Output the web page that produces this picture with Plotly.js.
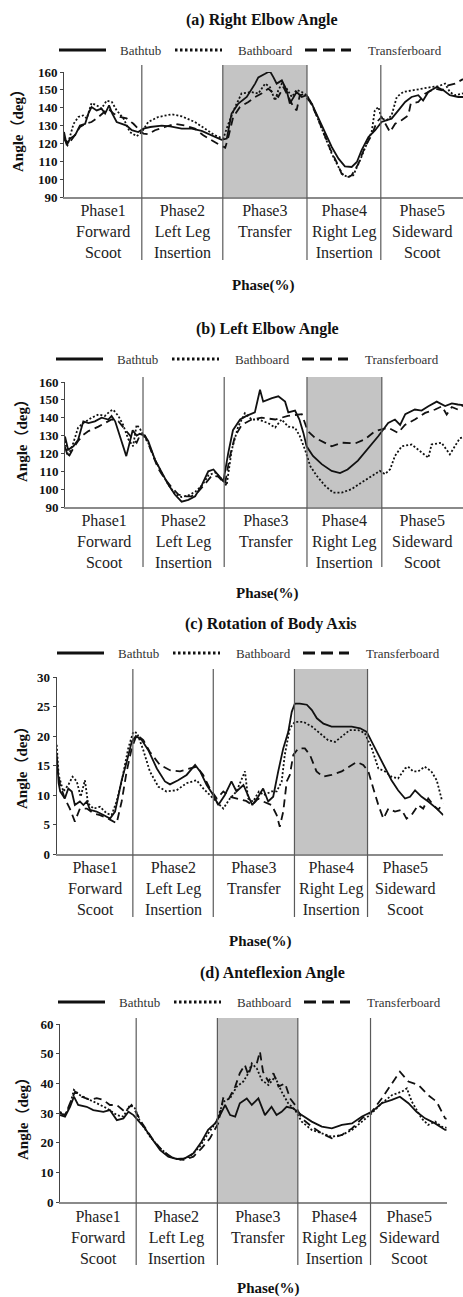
<!DOCTYPE html>
<html>
<head>
<meta charset="utf-8">
<script src="https://cdn.plot.ly/plotly-3.0.1.min.js"></script>
<style>html,body{margin:0;padding:0;background:#fff;}#chart{width:463px;height:1297px;}</style>
</head>
<body>
<div id="chart"></div>
<script>
// ---------- DATA ----------
const seriesNames = ["Bathtub", "Bathboard", "Transferboard"];
const phaseLabels = ["Phase1<br>Forward<br>Scoot", "Phase2<br>Left Leg<br>Insertion", "Phase3<br>Transfer", "Phase4<br>Right Leg<br>Insertion", "Phase5<br>Sideward<br>Scoot"];
const panelTitles = ["(a) Right Elbow Angle", "(b) Left Elbow Angle", "(c) Rotation of Body Axis", "(d) Anteflexion Angle"];
const xTitle = "Phase(%)";
const yTitle = "Angle（deg）";

// phase boundaries (% of task) for each panel
const aBounds = [0, 19.5, 39.8, 60.9, 79.4, 100];
const bBounds = [0, 19.6, 40.0, 60.8, 79.6, 100];
const cBounds = [0, 19.7, 40.5, 61.5, 80.4, 100];
const dBounds = [0, 19.7, 40.7, 61.5, 80.3, 100];

// (a) Right elbow angle
const aTubX = [0,0.7,1.5,2.8,4,5.3,6.1,6.9,8.2,9.4,10.3,11.3,12.1,13.2,14.5,15.7,17,18.6,19.9,21.6,24.5,26.6,29.5,32,34.5,37,39.5,40.8,42,43.7,45.8,47.9,48.7,50.4,51.6,52.5,53.3,54.6,55.8,56.6,57.5,58.3,59.6,60.8,62.1,63.7,65.4,67.1,68.8,70.4,72.1,73.4,74.6,76.3,78,79.6,80.9,82.1,83.8,85.5,87.1,88.8,90,91.3,93.4,95.1,96.7,98.8,100];
const aTubY = [126.4,119,122.7,124.6,130,131,136.7,140.4,138.5,139.5,136.7,141.3,136.7,132,131,130,127.4,126.4,128.3,129.2,130,129.6,128.3,128.3,127,124.6,122,122.7,136.7,142.3,146,153.5,157,159,160.5,157,153.5,155.3,149.7,142.3,146,148.8,146,147,142.3,134.8,126.4,118,111.5,107.2,106.8,109.6,116.2,123.6,127.4,132,133,133.9,138.5,143.2,146,147,144,148.8,151.6,149.7,147,146,146];
const aDotX = [0,1,2.4,3.6,4.8,5.7,6.9,8.2,9.4,10.7,12,13.2,14.9,16.5,18.2,19.5,21.1,23.6,27,29.5,32.8,35.3,37.8,39.9,41.2,42.9,44.5,47,48.7,50.4,51.6,52.9,53.7,54.6,55.8,57.1,58.3,59.6,60.8,62.1,63.7,65.4,67.1,68.8,70,71.3,72.5,74.2,75.9,77.1,77.9,78.8,79.6,80.9,82.1,83.4,85,87.1,89.6,92.1,93.8,95.5,96.7,98,100];
const aDotY = [123.6,120,131,134.8,135.7,134,142.6,141.3,139.5,144,143.2,138.5,134,126.4,124,126.4,132,134.8,136.3,135.2,132,128.3,124.6,122.7,131,140.4,148,148.8,147.9,153.5,151.6,144,149.7,153.5,150.7,146,150,148.8,147,142.3,133,123.6,114.3,106.8,102.2,101.2,102.2,110.6,119.9,126.4,138.5,140.4,133.9,133,135.7,146,148.8,149.7,150.7,151.6,152,153.5,148.8,147,148];
const aDashX = [0,0.9,2.4,4,5.3,6.9,8.2,9.9,11.1,12.4,14,15.7,17.4,18.6,19.9,21.1,22.8,25.3,27.8,30.3,32.8,34.9,37,39.1,40.4,41.2,42.4,44.1,46.2,47.9,49.5,51.2,52.5,53.7,55,56.2,57.5,58.3,59.1,60,61.7,63.3,65,66.7,68.3,69.6,70.9,72.1,73.8,75.4,77.1,78.4,79.6,80.9,81.7,83,84.6,86.3,86.9,88.8,90.5,93,94.7,96.3,98,100];
const aDashY = [122.7,119,123.6,129.2,131,132,134,137,139.5,136.7,134.8,134,131,128.3,125.5,125.1,127.4,129.2,131,130,128.3,124.6,121.7,119,117.6,123.6,134.8,140.4,143.2,146,147.9,150.7,148,146,151.6,146,140.4,138.5,147,147.5,143.2,135.7,126.4,117,109.6,103,100.9,102.2,108.7,118,124.6,132,134.8,129.2,126.4,131,133,135.7,142.3,143.2,147.9,150.7,149.7,152.5,153.5,156];

// (b) Left elbow angle
const bTubX = [0,0.8,2.1,3.3,4.6,5.9,7.5,9.2,10.9,11.7,12.6,13.8,15.4,16.3,17,18,18.8,20,20.9,22.6,24.3,26,27.6,29.3,31,32.7,34.4,36,37.3,38.5,39.8,41,42.2,44,45.6,47.7,49,49.8,52,53.6,55.3,56.1,57.8,58.9,59.9,60.7,62.3,64.5,67,69.1,71,73.6,76.2,78.7,81.2,82.9,84.2,85.5,87.9,89.6,91.3,93.4,95.5,97.2,98.7,100];
const bTubY = [129.5,122,124,127.6,138,137,138,140,139,141,138,130,118.5,126.5,133,130,131,130,127,116.5,109,102.4,97,93,94,96,102.4,110,111,108,104.5,120,133,139,141,143,155.7,149,151,152,149,143,144,139,131.5,124,118.6,114,110.2,109,111,116,123,129.6,137,139,136,142,144.6,144,146.4,149,146.5,148,147.4,147];
const bDotX = [0,0.8,2.1,3.3,4.6,6.7,8.4,10,11.3,12.1,13.4,14.6,15.9,17.1,18,18.8,19.7,20.9,22.6,24.3,26,27.6,29.3,31,32.7,34.4,36,37.7,39.4,40.6,41.9,43.5,45.2,46.9,48.6,51,52.8,54.4,56.1,57.8,59,60.3,61.6,63.2,65.3,67.4,69.5,72,74.5,77,79.1,80.4,81.7,82.9,84.6,87.1,88.8,90,91.3,92.1,94.6,96.7,98,99.2,100];
const bDotY = [127,118.5,126,134.5,137,140,141.8,141,143.6,144.5,141,136,128,124,136,134,130,126,116.6,109,102.4,97.4,95.6,96.5,98.5,102,107.6,109.4,105.6,102,122,135,142.5,139,139,137,134.5,139,135,134.4,129.7,122.2,113,107.6,102,98,98,100,103.7,107.5,110.2,108.4,111.2,118.6,124,125,122,120.4,117.6,125,126,119.5,124,128.5,129];
const bDashX = [0,0.8,2.1,3.3,4.6,5.9,8.4,10,11.7,13.4,15,16.7,18,18.8,20.1,21.8,23.4,25,26.8,28.5,30.2,31.8,33.5,35.2,36.9,38.5,40.2,41.4,42.7,44.4,46.9,49.4,52.8,56,59.5,61,62.8,67,69.5,72.9,75.4,77.9,79.6,81.2,83.7,85.4,87.9,90.5,93,94.7,95.9,97.2,98.7,100];
const bDashY = [123.7,117.6,123,127,130.4,132.5,135,137,139,138,133.4,129,126,130,130,120,111.6,106,101,97,96,96,98.6,103,107.6,107,103,118,129.5,136,139,140,139,141,142,132.5,128.8,124,126,125.6,128,132.5,133.4,134.4,131.5,136,139,142.7,144.6,146.4,141.8,146,144.6,147];

// (c) Rotation of body axis
const cTubX = [0,0.5,0.9,2.1,3,3.9,4.7,6,6.9,7.8,8.6,10.3,12.1,13.8,15.1,15.9,16.8,18.1,19.4,20.5,22,23.7,25.9,28,29.3,31.4,33.6,35.8,37.1,38.8,40.5,41.8,43.5,45.2,46.5,48.3,50,50.6,52.1,53.4,54.7,56,57.3,58.6,59.9,60.8,61.6,62.9,64.7,66,67.3,69,71.1,73.7,76.3,78.5,80.2,81.5,83.2,84.9,86.6,88.3,90.1,91.4,92.7,94.4,96.1,98.3,100];
const cTubY = [17,12,10.6,9.4,11.1,10.6,8.3,8.9,8.3,8.9,7.5,7.2,6.6,6,7.2,9.7,12.5,15.6,19,20,19.3,17.6,14.5,12.3,11.8,12.5,13.4,15.1,14,11.7,10,8.3,10,12.3,10.6,11.7,9.4,8.3,9.7,11.1,8.9,9.7,14,17.9,20.7,24.1,25.5,25.5,25.3,24.4,23,22.1,21.6,21.6,21.6,21.3,20.7,19,16.8,14.5,12.5,10.8,9.4,9.7,10.8,9.7,8.9,7.7,6.6];
const cDotX = [0,0.5,1.7,3,4.1,5.2,6.2,7.3,8.1,9.5,11.2,12.9,14.2,15.5,16.8,18.5,19.8,20.8,22.4,24.1,26.3,28.4,31,33.6,36.2,37.9,39.6,41.4,43.1,44.8,46.5,48.7,49.5,50.8,52.3,53.6,55.6,56.9,58.2,59,60.3,61.6,63.8,66,68.1,70.2,72,73.7,75.8,78,79.7,81.5,83.2,84.9,86.6,88.3,90.1,90.9,92.2,93.5,95.2,96.9,98.3,99.6,100];
const cDotY = [18.5,13.4,10.6,11.7,13.1,12.3,9.7,12.5,8.6,7.7,8,6.9,6.6,8.9,12.3,17.9,20.7,20.5,17.6,14,11.4,10.6,10.8,12,12.5,11.1,10,8.9,7.7,9.4,10.6,14,9.4,8.9,10.6,10,10.6,10.6,12.3,16.8,21.3,22.4,22.4,21.6,20.5,19.3,19,19.9,21,21,20.5,17.9,14.5,14,13.1,12.8,14.5,14.8,14,14,14.8,14,12.5,9.2,9.2];
const cDashX = [0,0.9,2.1,3.4,4.7,6,7.8,9.5,11.2,13.3,15.5,16.8,18.1,19.4,20.7,22.4,24.1,26.7,29.3,31.9,34.5,36.2,37.9,39.6,41.4,43.1,44.8,46.5,49,50.6,52.1,53.4,55.6,56.9,57.7,58.6,59.5,60.3,61.2,62.5,64.2,65.5,67.2,68.9,71.1,73.7,75.8,77.6,79.3,80.6,81.9,83.2,84.5,85.8,87.5,89.2,90.5,91.8,93.5,94.8,96.1,97.4,98.7,100];
const cDashY = [15,11.7,9.4,7.7,5.5,7.7,7.7,6.9,6.6,6,5.2,8.9,14,17.9,20.2,19.3,17.3,15.1,14.2,14,14.5,14.8,13.4,11.1,9.4,10.6,9.7,9.4,9,8.3,9.4,8.9,8.3,6.6,4.6,7.2,12.3,13.4,16.8,17.9,17.9,16.8,14,13.1,13.4,14,14.8,15.6,15.1,14,11.1,8.3,6,7.7,7.2,7.5,6,6.6,8.3,7.7,9.4,8.3,7.5,8.6];

// (d) Anteflexion angle
const dTubX = [0,1.3,2.6,3.6,4.7,6.9,8.6,11.2,12.9,14.7,16.4,17.7,19,20.2,22,23.7,25.9,28,30.2,32.3,34.5,36.6,38.3,40.1,41.4,42.7,44,45.3,46.5,48.3,49.6,51.3,53,54.7,56,57.3,58.6,60.3,62.5,65.1,67.7,70.3,72.9,75.5,78.1,80.6,83.2,85.8,87.9,90.1,92.2,94.4,97,99.6,100];
const dTubY = [29.3,28.8,32.1,35.5,32.7,32.1,31,30.4,31,27.6,28.2,30.4,29.3,27.6,24.8,21.5,17.5,15.3,14.5,14.7,16.4,20.3,24.3,26.5,29.3,32.7,29.3,28.8,33.3,34.9,32.7,34.9,29.3,32.1,29.3,30.4,32.1,31.6,29.3,27.1,25.4,24.8,26,26.5,28.8,30.4,33.3,34.4,35.5,33.3,30.4,28.2,26.5,24.3,24.3];
const dDotX = [0,1.3,2.6,3.6,5.2,6.9,9.5,12.1,14.7,16.4,18.1,19.4,20.7,23.3,25.9,28.4,31,33.6,36.2,38.3,40.5,42.2,44,45.7,47.4,48.7,49.6,50.9,52.2,53.9,55.6,57.3,59,60.8,62.5,65.1,67.7,70.3,72.9,75.5,78.1,80.6,83.2,85.8,88.4,89.7,91,93.5,95.2,97,98.7,100];
const dDotY = [30.4,29.3,32.7,37.8,36,35,33.3,31.6,29.3,28.8,32.7,31.6,27.1,22,18.1,15.3,14.2,15.3,18.7,23.1,27.1,33.8,35,38.9,40.6,43.4,46.7,45,41.1,39.4,42.2,37.2,33.3,31,27.1,24.3,23.1,22,22.6,24.3,27.1,29.9,33.3,36,37.2,38.3,33.8,28.2,26,27.1,25.4,25];
const dDashX = [0,1.3,2.6,3.9,5.6,7.8,9.5,11.2,12.9,14.7,16.8,18.5,19.8,21.5,24.1,26.7,29.3,31.9,34.5,36.6,38.8,40.9,42.2,43.5,45.3,46.5,47.8,48.7,49.6,50.9,51.7,52.5,53.9,55.2,56.5,58.2,59.5,60.8,62.5,65.1,67.7,70.3,72.9,75.5,78.1,80.6,83.2,85.8,87.9,90.1,92.7,95.2,97.4,99.6,100];
const dDashY = [29.9,29.3,33.3,37.2,35.5,34.4,35,34.4,32.7,32.7,30.4,32.7,29.9,26,20.9,17,14.7,14.2,15.3,18.1,21.5,26.5,35,34.4,38.9,43.4,46.2,42.8,46.2,46.7,50.7,43.9,40.6,43.4,38.9,40,34.9,32.7,28.2,25.4,23.1,21.5,22.6,24.8,28.2,30.4,34.9,40,43.9,40.6,39.4,36,33.8,28.2,28];

// ---------- LAYOUT SPEC (pixel positions) ----------
const W = 463, H = 1297;
const FONT = '"Liberation Serif", "Times New Roman", Times, "Noto Sans CJK SC", serif';
const px = v => v / W;
const py = v => 1 - v / H;

const panels = [
  {series: [[aTubX, aTubY], [aDotX, aDotY], [aDashX, aDashY]], bounds: aBounds, shaded: 2,
   x0: 64, x1: 463, top: 72, bot: 197, lineTop: 65, lineBot: 260, range: [90, 160], dtick: 10,
   titleX: 262, titleY: 20, legY: 50, legDx: 0, labTop: 200.5, xtX: 263, xtY: 285, ytX: 18, ytY: 127},
  {series: [[bTubX, bTubY], [bDotX, bDotY], [bDashX, bDashY]], bounds: bBounds, shaded: 3,
   x0: 65, x1: 463, top: 382, bot: 507, lineTop: 377, lineBot: 567, range: [90, 160], dtick: 10,
   titleX: 267, titleY: 329, legY: 359, legDx: -3, labTop: 509.5, xtX: 267, xtY: 593, ytX: 22, ytY: 437},
  {series: [[cTubX, cTubY], [cDotX, cDotY], [cDashX, cDashY]], bounds: cBounds, shaded: 3,
   x0: 56.7, x1: 443.3, top: 677, bot: 854, lineTop: 669, lineBot: 917, range: [0, 30], dtick: 5,
   titleX: 271, titleY: 624, legY: 653, legDx: -2, labTop: 856.5, xtX: 260, xtY: 941, ytX: 22, ytY: 764},
  {series: [[dTubX, dTubY], [dDotX, dDotY], [dDashX, dDashY]], bounds: dBounds, shaded: 2,
   x0: 60, x1: 446.7, top: 1024, bot: 1202, lineTop: 1018, lineBot: 1265, range: [0, 60], dtick: 10,
   titleX: 272, titleY: 973, legY: 1002, legDx: -1, labTop: 1205.5, xtX: 268, xtY: 1288, ytX: 23, ytY: 1115}
];

const dashes = ["solid", "2px,2px", "8px,5px"];
const legDashes = ["solid", "2.5px,2.5px", "12px,6px"];
const legSeg = [[59, 106, 118], [175, 222, 236], [305, 351, 366]];

const data = [];
const layout = {
  width: W, height: H, margin: {l: 0, r: 0, t: 0, b: 0},
  paper_bgcolor: "#ffffff", plot_bgcolor: "rgba(0,0,0,0)",
  showlegend: false, font: {family: FONT, color: "#111"},
  shapes: [], annotations: []
};

panels.forEach((p, i) => {
  const n = i === 0 ? "" : String(i + 1);
  const xa = "x" + n, ya = "y" + n;
  const span = p.bot - p.top;
  const domTop = 1 + (p.top - p.lineTop) / span;
  const domBot = -(p.lineBot - p.bot) / span;

  layout["xaxis" + n] = {
    domain: [px(p.x0), px(p.x1)], range: [0, 100], anchor: ya,
    showline: true, linecolor: "#8a8a8a", linewidth: 1.5, mirror: false,
    showticklabels: false, ticks: "", showgrid: false, zeroline: false, fixedrange: true
  };
  layout["yaxis" + n] = {
    domain: [py(p.bot), py(p.top)], range: p.range, dtick: p.dtick, anchor: xa,
    showline: true, linecolor: "#444", linewidth: 1,
    ticks: "outside", ticklen: 3, tickcolor: "#444", tickwidth: 1,
    tickfont: {family: FONT, size: 13, color: "#111", weight: "bold"},
    showgrid: false, zeroline: false, fixedrange: true
  };

  // shaded phase
  layout.shapes.push({type: "rect", xref: xa, yref: ya + " domain", layer: "below",
    x0: p.bounds[p.shaded], x1: p.bounds[p.shaded + 1], y0: 0, y1: domTop,
    fillcolor: "#c4c4c4", line: {width: 0}});
  // phase divider lines
  for (let k = 1; k <= 4; k++) {
    layout.shapes.push({type: "line", xref: xa, yref: ya + " domain", layer: "above",
      x0: p.bounds[k], x1: p.bounds[k], y0: domBot, y1: domTop,
      line: {color: "#5a5a5a", width: 1.2}});
  }
  // phase labels
  for (let k = 0; k < 5; k++) {
    layout.annotations.push({xref: xa, yref: "paper", x: (p.bounds[k] + p.bounds[k + 1]) / 2,
      y: py(p.labTop), xanchor: "center", yanchor: "top", showarrow: false, align: "center",
      text: phaseLabels[k], font: {family: FONT, size: 16, color: "#222"}});
  }
  // titles
  layout.annotations.push({xref: "paper", yref: "paper", x: px(p.titleX), y: py(p.titleY),
    xanchor: "center", yanchor: "middle", showarrow: false, text: panelTitles[i],
    font: {family: FONT, size: 16, color: "#111", weight: "bold"}});
  layout.annotations.push({xref: "paper", yref: "paper", x: px(p.xtX), y: py(p.xtY),
    xanchor: "center", yanchor: "middle", showarrow: false, text: xTitle,
    font: {family: FONT, size: 15, color: "#111", weight: "bold"}});
  layout.annotations.push({xref: "paper", yref: "paper", x: px(p.ytX), y: py(p.ytY),
    xanchor: "center", yanchor: "middle", showarrow: false, text: yTitle, textangle: -90,
    font: {family: FONT, size: 15, color: "#111", weight: "bold"}});

  // legend (drawn manually)
  for (let s = 0; s < 3; s++) {
    const seg = legSeg[s];
    layout.shapes.push({type: "line", xref: "paper", yref: "paper",
      x0: px(seg[0] + p.legDx), x1: px(seg[1] + p.legDx), y0: py(p.legY), y1: py(p.legY),
      line: {color: "#111", width: 3, dash: legDashes[s]}});
    layout.annotations.push({xref: "paper", yref: "paper", x: px(seg[2] + p.legDx), y: py(p.legY),
      xanchor: "left", yanchor: "middle", showarrow: false, text: seriesNames[s],
      font: {family: FONT, size: 13, color: "#333"}});
  }

  // data traces
  p.series.forEach((sr, s) => {
    data.push({type: "scatter", mode: "lines", x: sr[0], y: sr[1], xaxis: xa, yaxis: ya,
      name: seriesNames[s], line: {color: "#111", width: 1.8, dash: dashes[s]},
      hoverinfo: "skip", showlegend: false});
  });
});

Plotly.newPlot("chart", data, layout, {staticPlot: true, displayModeBar: false});
</script>
</body>
</html>
